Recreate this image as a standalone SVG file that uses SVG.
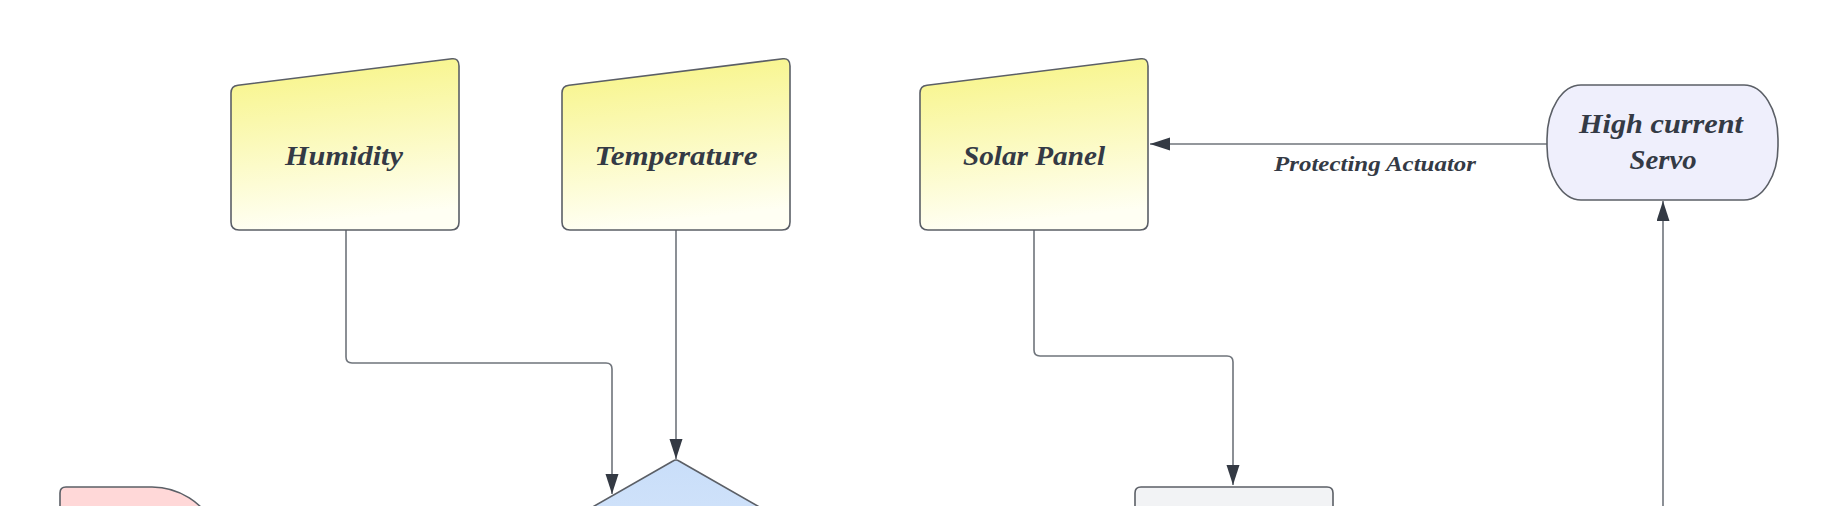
<svg xmlns="http://www.w3.org/2000/svg" width="1836" height="506" viewBox="0 0 1836 506">
<style>
.node{stroke:#5b5f66;stroke-width:1.6}
.lbl{font-family:"Liberation Serif","DejaVu Serif",serif;font-style:italic;font-weight:bold;font-size:28px;fill:#343a45;text-anchor:middle}
.elbl{font-family:"Liberation Serif","DejaVu Serif",serif;font-style:italic;font-weight:bold;font-size:21px;fill:#343a45;text-anchor:middle}
.conn{fill:none;stroke:#6f747b;stroke-width:1.6}
</style>
<defs>
<linearGradient id="yel" x1="0" y1="0" x2="0.15" y2="1">
<stop offset="0" stop-color="#f7f482"/>
<stop offset="1" stop-color="#fffff3"/>
</linearGradient>
<linearGradient id="blu" x1="0" y1="0" x2="0" y2="1">
<stop offset="0" stop-color="#c9def9"/>
<stop offset="1" stop-color="#e3eefd"/>
</linearGradient>
<path id="trap" d="M0,35 Q0,28 7,27.2 L221,0.8 Q228,0 228,8 L228,164 Q228,172 220,172 L8,172 Q0,172 0,164 Z"/>
<marker id="arr" markerUnits="userSpaceOnUse" markerWidth="22" markerHeight="14" refX="20" refY="6.5" orient="auto">
<path d="M0,0 L20,6.5 L0,13 Z" fill="#343a44"/>
</marker>
</defs>
<rect width="1836" height="506" fill="#ffffff"/>

<g id="connectors">
<path class="conn" d="M346,230 L346,357 Q346,363 352,363 L606,363 Q612,363 612,369 L612,494" marker-end="url(#arr)"/>
<path class="conn" d="M676,230 L676,459" marker-end="url(#arr)"/>
<path class="conn" d="M1034,230 L1034,350 Q1034,356 1040,356 L1227,356 Q1233,356 1233,362 L1233,485" marker-end="url(#arr)"/>
<path class="conn" d="M1547,144 L1150,144" marker-end="url(#arr)"/>
<path class="conn" d="M1663,510 L1663,201" marker-end="url(#arr)"/>
<text class="elbl" x="1375" y="171" textLength="202" lengthAdjust="spacingAndGlyphs">Protecting Actuator</text>
</g>

<g id="humidity">
<use href="#trap" transform="translate(231,58)" class="node" fill="url(#yel)"/>
<text class="lbl" x="344" y="165" textLength="118" lengthAdjust="spacingAndGlyphs">Humidity</text>
</g>

<g id="temperature">
<use href="#trap" transform="translate(562,58)" class="node" fill="url(#yel)"/>
<text class="lbl" x="676" y="165" textLength="163" lengthAdjust="spacingAndGlyphs">Temperature</text>
</g>

<g id="solar-panel">
<use href="#trap" transform="translate(920,58)" class="node" fill="url(#yel)"/>
<text class="lbl" x="1034" y="165" textLength="142" lengthAdjust="spacingAndGlyphs">Solar Panel</text>
</g>

<g id="servo">
<rect class="node" x="1547" y="85" width="231" height="115" rx="34" ry="54" fill="#efeffc"/>
<text class="lbl" x="1661" y="133" textLength="164" lengthAdjust="spacingAndGlyphs">High current</text>
<text class="lbl" x="1663" y="169" textLength="67" lengthAdjust="spacingAndGlyphs">Servo</text>
</g>

<g id="red-node">
<path class="node" fill="#ffd8d8" d="M60,520 L60,493 Q60,487 66,487 L152,487 A70,70 0 0 1 215,527 L215,530 L60,530 Z"/>
</g>

<g id="decision">
<path class="node" fill="url(#blu)" d="M673,461 Q676,459 679,461 L880,576 L676,692 L472,576 Z"/>
</g>

<g id="gray-node">
<path class="node" fill="#f2f3f5" d="M1135,520 L1135,493 Q1135,487 1141,487 L1327,487 Q1333,487 1333,493 L1333,520"/>
</g>
</svg>
